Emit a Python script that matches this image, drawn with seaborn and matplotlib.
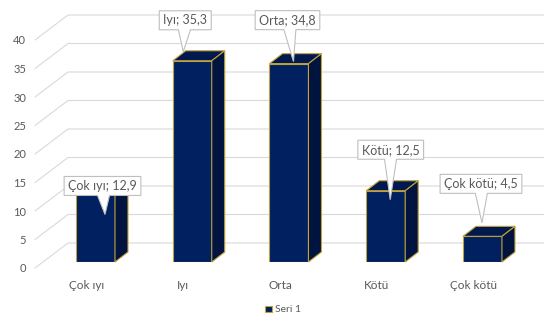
import numpy as np
import pandas as pd
import matplotlib
matplotlib.use("Agg")
import matplotlib.pyplot as plt
import seaborn as sns
from matplotlib.patches import Polygon
from matplotlib.lines import Line2D
from matplotlib.transforms import IdentityTransform, ScaledTranslation

# ---------------- data ----------------
categories = ["Çok ıyı", "Iyı", "Orta", "Kötü", "Çok kötü"]
values = [12.9, 35.3, 34.8, 12.5, 4.5]
value_texts = ["12,9", "35,3", "34,8", "12,5", "4,5"]
series_name = "Seri 1"
y_ticks = [0, 5, 10, 15, 20, 25, 30, 35, 40]

# ---------------- style ----------------
FRONT = "#002060"
SIDE = "#00143f"
TOP = "#001a4f"
GOLD = "#c2a13a"
GRID = "#d9d9d9"
TEXT = "#595959"
W, H, DPI = 544, 320, 100

sns.set_theme(style="white")
plt.rcParams["font.family"] = ["Lato", "DejaVu Sans"]

fig = plt.figure(figsize=(W / DPI, H / DPI), dpi=DPI)
fig.patch.set_facecolor("white")
ax = fig.add_axes([30 / W, 58 / H, 514 / W, 228 / H])
ax.set_facecolor("none")

df = pd.DataFrame({"cat": categories, "val": values})
sns.barplot(data=df, x="cat", y="val", color=FRONT, saturation=1, width=0.403,
            edgecolor=GOLD, linewidth=0.8, ax=ax, label=series_name, zorder=3)

ax.set_xlim(-0.677, 4.636)
ax.set_ylim(0, 40)
for s in ax.spines.values():
    s.set_visible(False)
ax.grid(False)
ax.set_xlabel("")
ax.set_ylabel("")
ax.set_yticks(y_ticks)
ax.set_yticklabels([str(t) for t in y_ticks])
ax.tick_params(axis="y", length=0, pad=2.9, labelsize=8, labelcolor=TEXT)
ax.tick_params(axis="x", length=0, pad=13, labelsize=8.5, labelcolor=TEXT)
for lab in ax.get_yticklabels():
    lab.set_transform(lab.get_transform() + ScaledTranslation(0, -6 / DPI, fig.dpi_scale_trans))
for lab in ax.get_xticklabels():
    lab.set_transform(lab.get_transform() + ScaledTranslation(-9 / DPI, 0, fig.dpi_scale_trans))

ident = IdentityTransform()

# ---------------- 3D-looking gridlines (wall + floor edge) ----------------
for v in y_ticks:
    yf = ax.transData.transform((0, v))[1]
    fig.add_artist(Line2D([35, 68, W], [yf - 6, yf + 19, yf + 19], transform=ident,
                          color=GRID, lw=0.8, zorder=-1))

# ---------------- top and side faces of the bars ----------------
DX, DY = 13, 10
bar_tops = []
for p in ax.patches:
    (x0, y0), (x1, y1) = ax.transData.transform([(p.get_x(), p.get_y()),
                                                 (p.get_x() + p.get_width(), p.get_y() + p.get_height())])
    top = [(x0, y1), (x1, y1), (x1 + DX, y1 + DY), (x0 + DX, y1 + DY)]
    side = [(x1, y0), (x1, y1), (x1 + DX, y1 + DY), (x1 + DX, y0 + DY)]
    fig.add_artist(Polygon(top, closed=True, transform=ident, fc=TOP, ec=GOLD, lw=0.8, zorder=1))
    fig.add_artist(Polygon(side, closed=True, transform=ident, fc=SIDE, ec=GOLD, lw=0.8, zorder=1))
    bar_tops.append(((x0 + x1) / 2, y1))

# ---------------- callout data labels ----------------
box_off = [(7, 2.5), (-7, 40.5), (-1.5, 43.5), (5, 41), (-1.5, 52.5)]
tip_off = [(9.5, -26), (-9, 9), (4.5, 2), (4.5, -9), (-0.5, 13.5)]
renderer = fig.canvas.get_renderer()
for (bx, by), cat, vt, bo, to in zip(bar_tops, categories, value_texts, box_off, tip_off):
    cx, cy = bx + bo[0], by + bo[1]
    tx, ty = bx + to[0], by + to[1]
    t = fig.text(cx, cy, f"{cat}; {vt}", transform=ident, ha="center", va="center",
                 fontsize=9, color=TEXT, zorder=3)
    ext = t.get_window_extent(renderer)
    hw, hh = ext.width / 2 + 4, 9.5
    base = cx + np.clip(0.4 * (tx - cx), -hw + 8, hw - 8)
    verts = [(cx - hw, cy + hh), (cx + hw, cy + hh), (cx + hw, cy - hh),
             (base + 6, cy - hh), (tx, ty), (base - 6, cy - hh), (cx - hw, cy - hh)]
    fig.add_artist(Polygon(verts, closed=True, transform=ident, fc="white",
                           ec="#bfbfbf", lw=0.8, zorder=2))

# ---------------- legend ----------------
leg = ax.legend(loc="center", bbox_to_anchor=(283 / W, 1 - 310 / H), bbox_transform=fig.transFigure,
                frameon=False, fontsize=7.5, handlelength=0.6, handleheight=0.6,
                handletextpad=0.3, borderaxespad=0)
for txt in leg.get_texts():
    txt.set_color(TEXT)

fig.savefig("out.png", dpi=DPI)
